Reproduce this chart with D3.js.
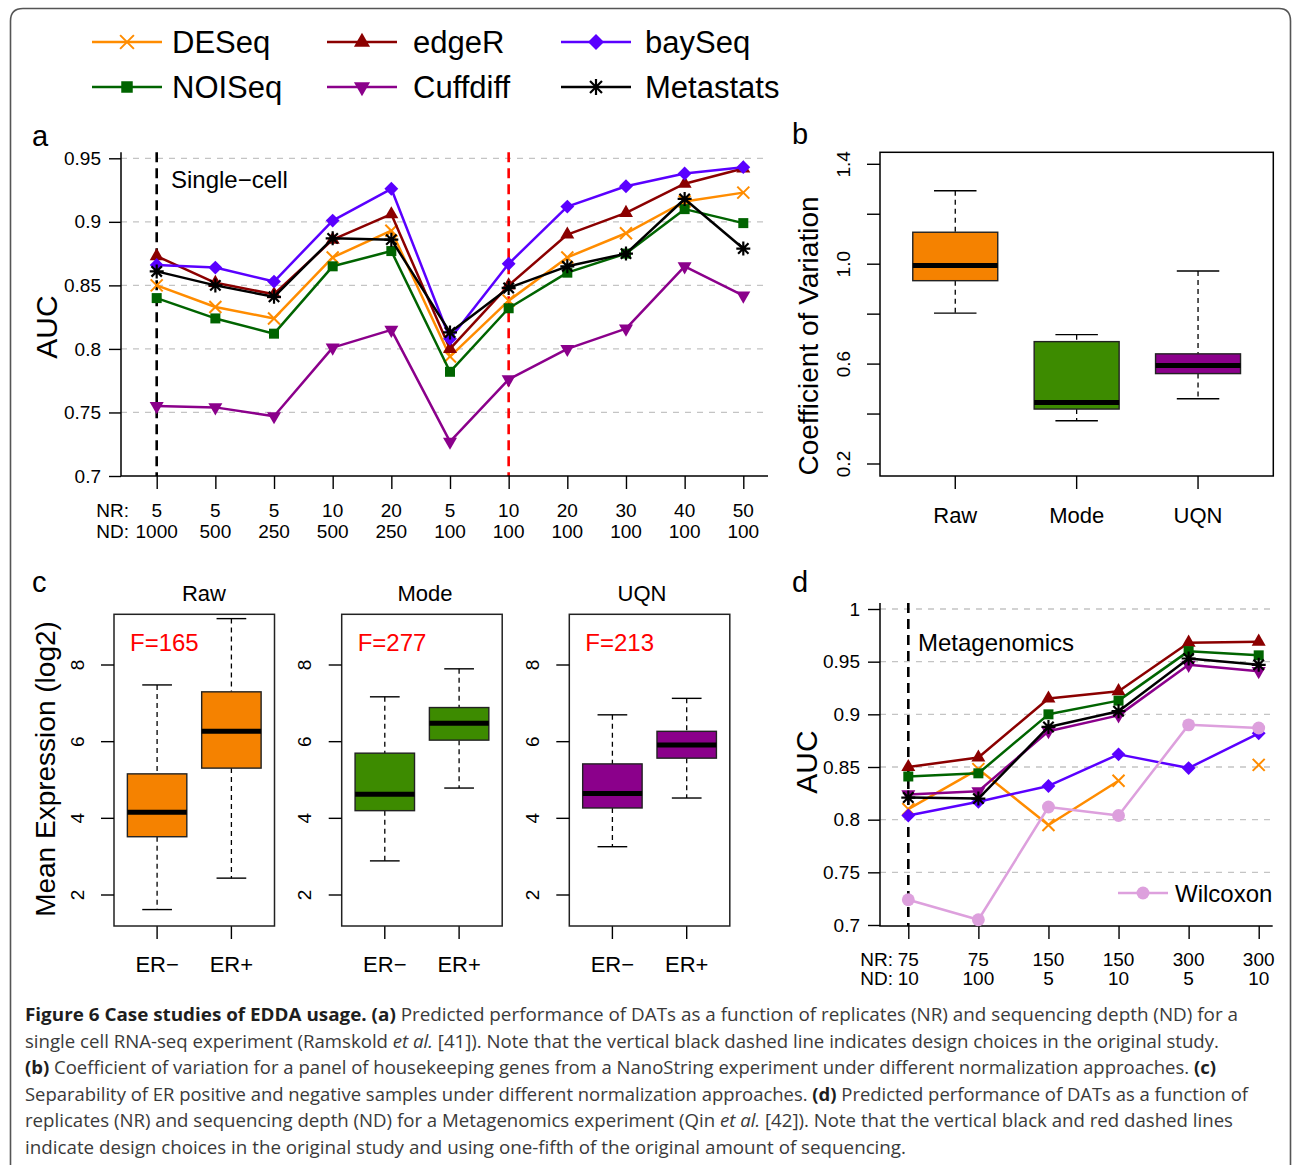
<!DOCTYPE html>
<html><head><meta charset="utf-8">
<script src="https://cdn.jsdelivr.net/npm/d3@7"></script>
<style>body{margin:0;background:#fff}svg{display:block}</style>
</head><body>
<script>
// ================= DATA =================
const methods = ["DESeq", "edgeR", "baySeq", "NOISeq", "Cuffdiff", "Metastats"];

// panel a : single-cell
const aNR = ["5", "5", "5", "10", "20", "5", "10", "20", "30", "40", "50"];
const aND = ["1000", "500", "250", "500", "250", "100", "100", "100", "100", "100", "100"];
const aDESeq    = [0.850, 0.833, 0.824, 0.872, 0.893, 0.794, 0.838, 0.872, 0.891, 0.916, 0.923];
const aEdgeR    = [0.873, 0.852, 0.843, 0.886, 0.906, 0.800, 0.850, 0.890, 0.907, 0.930, 0.942];
const aBaySeq   = [0.866, 0.864, 0.853, 0.901, 0.926, 0.808, 0.867, 0.912, 0.928, 0.938, 0.943];
const aNOISeq   = [0.840, 0.824, 0.812, 0.865, 0.877, 0.782, 0.832, 0.860, 0.875, 0.910, 0.899];
const aCuffdiff = [0.755, 0.754, 0.747, 0.801, 0.815, 0.727, 0.776, 0.800, 0.816, 0.865, 0.842];
const aMetastats= [0.861, 0.850, 0.841, 0.887, 0.886, 0.813, 0.848, 0.865, 0.875, 0.918, 0.879];
const aYTicks = [0.7, 0.75, 0.8, 0.85, 0.9, 0.95];

// panel b : coefficient of variation
const cvGroups = ["Raw", "Mode", "UQN"];
const cvLow    = [0.804, 0.373, 0.461];
const cvQ1     = [0.934, 0.420, 0.562];
const cvMedian = [0.995, 0.446, 0.594];
const cvQ3     = [1.128, 0.690, 0.641];
const cvHigh   = [1.294, 0.718, 0.973];
const cvTicks  = [0.2, 0.4, 0.6, 0.8, 1.0, 1.2, 1.4];
const cvTickLabels = ["0.2", "", "0.6", "", "1.0", "", "1.4"];

// panel c : mean expression by ER status
const normTitles = ["Raw", "Mode", "UQN"];
const fStats = ["F=165", "F=277", "F=213"];
const erGroups = ["ER\u2212", "ER+"];
const exprLow    = [[1.62, 2.44], [2.89, 4.79], [3.26, 4.53]];
const exprQ1     = [[3.52, 5.31], [4.20, 6.04], [4.27, 5.57]];
const exprMedian = [[4.16, 6.27], [4.63, 6.48], [4.65, 5.91]];
const exprQ3     = [[5.16, 7.30], [5.70, 6.89], [5.42, 6.27]];
const exprHigh   = [[7.48, 9.21], [7.17, 7.90], [6.70, 7.13]];
const exprTicks  = [2, 4, 6, 8];

// panel d : metagenomics
const dNR = ["75", "75", "150", "150", "300", "300"];
const dND = ["10", "100", "5", "10", "5", "10"];
const dDESeq    = [0.810, 0.848, 0.795, 0.837, null, 0.852];
const dEdgeR    = [0.850, 0.859, 0.915, 0.922, 0.968, 0.969];
const dBaySeq   = [0.804, 0.817, 0.832, 0.862, 0.849, 0.882];
const dNOISeq   = [0.841, 0.844, 0.900, 0.913, 0.960, 0.956];
const dCuffdiff = [0.824, 0.827, 0.884, 0.899, 0.947, 0.941];
const dMetastats= [0.821, 0.820, 0.888, 0.903, 0.953, 0.947];
const dWilcoxon = [0.724, 0.705, 0.812, 0.804, 0.890, 0.887];
const dYTicks = [0.7, 0.75, 0.8, 0.85, 0.9, 0.95, 1];

// caption
const captionLines = [
  [["b", "Figure 6 Case studies of EDDA usage. "], ["b", "(a)"], ["n", " Predicted performance of DATs as a function of replicates (NR) and sequencing depth (ND) for a"]],
  [["n", "single cell RNA-seq experiment (Ramskold "], ["i", "et al."], ["n", " [41]). Note that the vertical black dashed line indicates design choices in the original study."]],
  [["b", "(b)"], ["n", " Coefficient of variation for a panel of housekeeping genes from a NanoString experiment under different normalization approaches. "], ["b", "(c)"]],
  [["n", "Separability of ER positive and negative samples under different normalization approaches. "], ["b", "(d)"], ["n", " Predicted performance of DATs as a function of"]],
  [["n", "replicates (NR) and sequencing depth (ND) for a Metagenomics experiment (Qin "], ["i", "et al."], ["n", " [42]). Note that the vertical black and red dashed lines"]],
  [["n", "indicate design choices in the original study and using one-fifth of the original amount of sequencing."]]
];
const captionWidths = [1213, 1194, 1191, 1223, 1208, 881];

// ================= STYLE =================
const FONT = "'Liberation Sans', Arial, Helvetica, sans-serif";
const style = {
  DESeq:    {color: "#ff8c00", shape: "x"},
  edgeR:    {color: "#8b0000", shape: "tri"},
  baySeq:   {color: "#5a00ff", shape: "diamond"},
  NOISeq:   {color: "#006400", shape: "square"},
  Cuffdiff: {color: "#8b008b", shape: "tridown"},
  Metastats:{color: "#000000", shape: "star"},
  Wilcoxon: {color: "#dda0dd", shape: "circle"}
};
const boxColors = ["#f58200", "#3d8b00", "#8b008b"];
const cTitleX = [204, 425, 642];

const svg = d3.select("body").append("svg").attr("width", 1292).attr("height", 1165)
  .style("font-family", FONT);

// frame
svg.append("path")
  .attr("d", "M10.5,1165 V21 Q10.5,8.5 23,8.5 H1279 Q1290.5,8.5 1290.5,21 V1165")
  .attr("fill", "none").attr("stroke", "#555").attr("stroke-width", 1.6);

function drawMarker(g, shape, x, y, color, k = 1) {
  let p;
  if (shape === "x") {
    const h = 6 * k;
    p = g.append("path").attr("d", `M${-h},${-h}L${h},${h}M${-h},${h}L${h},${-h}`)
      .attr("fill", "none").attr("stroke", color).attr("stroke-width", 2);
  } else if (shape === "star") {
    const h = 7 * k, q = 5.2 * k;
    p = g.append("path").attr("d", `M${-q},${-q}L${q},${q}M${-q},${q}L${q},${-q}M${-h},0L${h},0M0,${-h}L0,${h}`)
      .attr("fill", "none").attr("stroke", color).attr("stroke-width", 2.2);
  } else {
    let sym, size, rot = 0;
    if (shape === "tri") { sym = d3.symbolTriangle; size = 85; }
    else if (shape === "tridown") { sym = d3.symbolTriangle; size = 85; rot = 180; }
    else if (shape === "diamond") { sym = d3.symbolSquare; size = 96; rot = 45; }
    else if (shape === "square") { sym = d3.symbolSquare; size = 100; }
    else { sym = d3.symbolCircle; size = 130; }
    p = g.append("path").attr("d", d3.symbol(sym, size * k * k)()).attr("fill", color);
    p.attr("transform", `translate(${x},${y}) rotate(${rot})`);
    return p;
  }
  p.attr("transform", `translate(${x},${y})`);
  return p;
}

function drawSeries(g, name, values, x, y) {
  const st = style[name];
  const line = d3.line().defined(d => d != null).x((d, i) => x(i)).y(d => y(d));
  g.append("path").datum(values).attr("d", line).attr("fill", "none")
    .attr("stroke", st.color).attr("stroke-width", 2.5).attr("stroke-linejoin", "round");
  values.forEach((v, i) => { if (v != null) drawMarker(g, st.shape, x(i), y(v), st.color); });
}

function rotText(g, cx, cy, txt, size) {
  return g.append("text").attr("transform", `translate(${cx},${cy}) rotate(-90)`)
    .attr("text-anchor", "middle").attr("dy", "0.35em").attr("font-size", size).text(txt);
}

// ================= TOP LEGEND =================
const legG = svg.append("g");
const legCols = [[92, 162, 172], [327, 397, 413], [561, 631, 645]];
const legRows = [42, 87];
const legendOrder = [["DESeq", "edgeR", "baySeq"], ["NOISeq", "Cuffdiff", "Metastats"]];
legendOrder.forEach((row, r) => row.forEach((name, c) => {
  const [x0, x1, tx] = legCols[c]; const y = legRows[r]; const st = style[name];
  legG.append("line").attr("x1", x0).attr("x2", x1).attr("y1", y).attr("y2", y)
    .attr("stroke", st.color).attr("stroke-width", 2.5);
  drawMarker(legG, st.shape, (x0 + x1) / 2, y, st.color, 1.15);
  legG.append("text").attr("x", tx).attr("y", y + 11).attr("font-size", 31).text(name);
}));

// ================= PANEL A =================
{
  const g = svg.append("g");
  const L = 121, R = 768, T = 152.3, B = 476;
  const x = d3.scaleLinear().domain([0, aNR.length - 1]).range([156.7, 743.3]);
  const y = d3.scaleLinear().domain([0.7, 0.95]).range([B, 158.3]);
  aYTicks.filter(t => t > 0.7).forEach(t => g.append("line").attr("x1", L).attr("x2", R)
    .attr("y1", y(t)).attr("y2", y(t)).attr("stroke", "#c4c4c4").attr("stroke-width", 1.3)
    .attr("stroke-dasharray", "6,6"));
  g.append("line").attr("x1", x(0)).attr("x2", x(0)).attr("y1", T).attr("y2", B)
    .attr("stroke", "#000").attr("stroke-width", 2.6).attr("stroke-dasharray", "10,6");
  g.append("line").attr("x1", x(6)).attr("x2", x(6)).attr("y1", T).attr("y2", B)
    .attr("stroke", "#ff0000").attr("stroke-width", 2.6).attr("stroke-dasharray", "10,6");
  const ay = g.append("g").attr("transform", `translate(${L},0)`)
    .call(d3.axisLeft(y).tickValues(aYTicks).tickSize(12).tickPadding(8).tickFormat(d3.format("")));
  ay.select(".domain").remove();
  ay.selectAll("text").attr("font-size", 19).attr("font-family", FONT).attr("fill", "#000");
  ay.selectAll("line").attr("stroke-width", 1.4);
  const ax = g.append("g").attr("transform", `translate(0,${B})`)
    .call(d3.axisBottom(x).tickValues(d3.range(aNR.length)).tickSize(13).tickFormat(""));
  ax.select(".domain").remove();
  ax.selectAll("line").attr("stroke-width", 1.4);
  g.append("path").attr("d", `M${L},${T}V${B}H${R}`).attr("fill", "none").attr("stroke", "#000").attr("stroke-width", 1.5);
  aNR.forEach((v, i) => {
    g.append("text").attr("x", x(i)).attr("y", 517).attr("text-anchor", "middle").attr("font-size", 19).text(v);
    g.append("text").attr("x", x(i)).attr("y", 537.5).attr("text-anchor", "middle").attr("font-size", 19).text(aND[i]);
  });
  g.append("text").attr("x", 129).attr("y", 517).attr("text-anchor", "end").attr("font-size", 19).text("NR:");
  g.append("text").attr("x", 129).attr("y", 537.5).attr("text-anchor", "end").attr("font-size", 19).text("ND:");
  const series = [aDESeq, aEdgeR, aBaySeq, aNOISeq, aCuffdiff, aMetastats];
  methods.forEach((m, k) => drawSeries(g, m, series[k], x, y));
  g.append("text").attr("x", 171).attr("y", 187.5).attr("font-size", 24).text("Single\u2212cell");
  rotText(g, 46, 327, "AUC", 30);
  g.append("text").attr("x", 32).attr("y", 146).attr("font-size", 29).text("a");
}

// ================= PANEL B =================
{
  const g = svg.append("g");
  const L = 880, R = 1273.3, T = 152.3, B = 476;
  const x = d3.scaleLinear().domain([0.38, 3.62]).range([L, R]);
  const y = d3.scaleLinear().domain([0.2, 1.4]).range([464, 164.3]);
  const bw = (x(1) - x(0)) * 0.7;
  cvGroups.forEach((grp, i) => {
    const cx = x(i + 1);
    g.append("line").attr("x1", cx).attr("x2", cx).attr("y1", y(cvHigh[i])).attr("y2", y(cvQ3[i]))
      .attr("stroke", "#000").attr("stroke-width", 1.3).attr("stroke-dasharray", "5,4");
    g.append("line").attr("x1", cx).attr("x2", cx).attr("y1", y(cvQ1[i])).attr("y2", y(cvLow[i]))
      .attr("stroke", "#000").attr("stroke-width", 1.3).attr("stroke-dasharray", "5,4");
    [cvHigh[i], cvLow[i]].forEach(v => g.append("line").attr("x1", cx - bw / 4).attr("x2", cx + bw / 4)
      .attr("y1", y(v)).attr("y2", y(v)).attr("stroke", "#000").attr("stroke-width", 1.4));
    g.append("rect").attr("x", cx - bw / 2).attr("width", bw).attr("y", y(cvQ3[i]))
      .attr("height", y(cvQ1[i]) - y(cvQ3[i])).attr("fill", boxColors[i]).attr("stroke", "#222").attr("stroke-width", 1.4);
    g.append("line").attr("x1", cx - bw / 2).attr("x2", cx + bw / 2).attr("y1", y(cvMedian[i])).attr("y2", y(cvMedian[i]))
      .attr("stroke", "#000").attr("stroke-width", 5);
    g.append("line").attr("x1", cx).attr("x2", cx).attr("y1", B).attr("y2", B + 13).attr("stroke", "#000").attr("stroke-width", 1.4);
    g.append("text").attr("x", cx).attr("y", 523).attr("text-anchor", "middle").attr("font-size", 22).text(grp);
  });
  g.append("rect").attr("x", L).attr("y", T).attr("width", R - L).attr("height", B - T)
    .attr("fill", "none").attr("stroke", "#000").attr("stroke-width", 1.5);
  cvTicks.forEach((t, i) => {
    g.append("line").attr("x1", L - 13).attr("x2", L).attr("y1", y(t)).attr("y2", y(t)).attr("stroke", "#000").attr("stroke-width", 1.4);
    if (cvTickLabels[i]) rotText(g, 843.5, y(t), cvTickLabels[i], 19);
  });
  rotText(g, 808, 336, "Coefficient of Variation", 28);
  g.append("text").attr("x", 792).attr("y", 144).attr("font-size", 29).text("b");
}

// ================= PANEL C =================
{
  const g = svg.append("g");
  const T = 614.3, B = 926;
  const lefts = [114, 341.7, 569.3], W = 160.5;
  const y = d3.scaleLinear().domain([2, 8]).range([895, 665]);
  normTitles.forEach((title, p) => {
    const L = lefts[p];
    const x = d3.scaleLinear().domain([0.42, 2.58]).range([L, L + W]);
    const bw = (x(1) - x(0)) * 0.8;
    erGroups.forEach((er, j) => {
      const cx = x(j + 1);
      g.append("line").attr("x1", cx).attr("x2", cx).attr("y1", y(exprHigh[p][j])).attr("y2", y(exprQ3[p][j]))
        .attr("stroke", "#000").attr("stroke-width", 1.3).attr("stroke-dasharray", "5,4");
      g.append("line").attr("x1", cx).attr("x2", cx).attr("y1", y(exprQ1[p][j])).attr("y2", y(exprLow[p][j]))
        .attr("stroke", "#000").attr("stroke-width", 1.3).attr("stroke-dasharray", "5,4");
      [exprHigh[p][j], exprLow[p][j]].forEach(v => g.append("line").attr("x1", cx - bw / 4).attr("x2", cx + bw / 4)
        .attr("y1", y(v)).attr("y2", y(v)).attr("stroke", "#000").attr("stroke-width", 1.4));
      g.append("rect").attr("x", cx - bw / 2).attr("width", bw).attr("y", y(exprQ3[p][j]))
        .attr("height", y(exprQ1[p][j]) - y(exprQ3[p][j])).attr("fill", boxColors[p]).attr("stroke", "#222").attr("stroke-width", 1.4);
      g.append("line").attr("x1", cx - bw / 2).attr("x2", cx + bw / 2).attr("y1", y(exprMedian[p][j])).attr("y2", y(exprMedian[p][j]))
        .attr("stroke", "#000").attr("stroke-width", 5);
      g.append("line").attr("x1", cx).attr("x2", cx).attr("y1", B).attr("y2", B + 13).attr("stroke", "#000").attr("stroke-width", 1.4);
      g.append("text").attr("x", cx).attr("y", 972).attr("text-anchor", "middle").attr("font-size", 22).text(er);
    });
    g.append("rect").attr("x", L).attr("y", T).attr("width", W).attr("height", B - T)
      .attr("fill", "none").attr("stroke", "#222").attr("stroke-width", 1.5);
    exprTicks.forEach(t => {
      g.append("line").attr("x1", L - 13).attr("x2", L).attr("y1", y(t)).attr("y2", y(t)).attr("stroke", "#000").attr("stroke-width", 1.4);
      rotText(g, L - 37, y(t), String(t), 19);
    });
    g.append("text").attr("x", cTitleX[p]).attr("y", 600.5).attr("text-anchor", "middle").attr("font-size", 22).text(title);
    g.append("text").attr("x", L + 16).attr("y", 651).attr("font-size", 24).attr("fill", "#ff0000").text(fStats[p]);
  });
  rotText(g, 45, 769, "Mean Expression (log2)", 28);
  g.append("text").attr("x", 32).attr("y", 592).attr("font-size", 29).text("c");
}

// ================= PANEL D =================
{
  const g = svg.append("g");
  const L = 880, R = 1272.7, T = 603, B = 926;
  const x = d3.scaleLinear().domain([0, dNR.length - 1]).range([908.3, 1258.7]);
  const y = d3.scaleLinear().domain([0.7, 1]).range([925, 609]);
  dYTicks.filter(t => t > 0.7).forEach(t => g.append("line").attr("x1", L).attr("x2", R)
    .attr("y1", y(t)).attr("y2", y(t)).attr("stroke", "#c4c4c4").attr("stroke-width", 1.3)
    .attr("stroke-dasharray", "6,6"));
  g.append("line").attr("x1", x(0)).attr("x2", x(0)).attr("y1", T).attr("y2", B)
    .attr("stroke", "#000").attr("stroke-width", 2.6).attr("stroke-dasharray", "10,6");
  const ay = g.append("g").attr("transform", `translate(${L},0)`)
    .call(d3.axisLeft(y).tickValues(dYTicks).tickSize(12).tickPadding(8).tickFormat(d3.format("")));
  ay.select(".domain").remove();
  ay.selectAll("text").attr("font-size", 19).attr("font-family", FONT).attr("fill", "#000");
  ay.selectAll("line").attr("stroke-width", 1.4);
  const ax = g.append("g").attr("transform", `translate(0,${B})`)
    .call(d3.axisBottom(x).tickValues(d3.range(dNR.length)).tickSize(13).tickFormat(""));
  ax.select(".domain").remove();
  ax.selectAll("line").attr("stroke-width", 1.4);
  g.append("path").attr("d", `M${L},${T}V${B}H${R}`).attr("fill", "none").attr("stroke", "#000").attr("stroke-width", 1.5);
  dNR.forEach((v, i) => {
    g.append("text").attr("x", x(i)).attr("y", 966).attr("text-anchor", "middle").attr("font-size", 19).text(v);
    g.append("text").attr("x", x(i)).attr("y", 985).attr("text-anchor", "middle").attr("font-size", 19).text(dND[i]);
  });
  g.append("text").attr("x", 893).attr("y", 966).attr("text-anchor", "end").attr("font-size", 19).text("NR:");
  g.append("text").attr("x", 893).attr("y", 985).attr("text-anchor", "end").attr("font-size", 19).text("ND:");
  const series = [dDESeq, dEdgeR, dBaySeq, dNOISeq, dCuffdiff, dMetastats];
  methods.forEach((m, k) => drawSeries(g, m, series[k], x, y));
  drawSeries(g, "Wilcoxon", dWilcoxon, x, y);
  g.append("line").attr("x1", 1118).attr("x2", 1168).attr("y1", 893).attr("y2", 893)
    .attr("stroke", style.Wilcoxon.color).attr("stroke-width", 2.5);
  drawMarker(g, "circle", 1143, 893, style.Wilcoxon.color);
  g.append("text").attr("x", 1175).attr("y", 901.5).attr("font-size", 24).text("Wilcoxon");
  g.append("text").attr("x", 918).attr("y", 651).attr("font-size", 24).text("Metagenomics");
  rotText(g, 806, 762, "AUC", 30);
  g.append("text").attr("x", 792).attr("y", 592).attr("font-size", 29).text("d");
}

// ================= CAPTION =================
{
  const g = svg.append("g");
  const baselines = [1021, 1048, 1074, 1101, 1127, 1154];
  captionLines.forEach((segs, li) => {
    const t = g.append("text").attr("x", 25).attr("y", baselines[li])
      .attr("font-family", "'Open Sans', 'Noto Sans', sans-serif").attr("font-size", 17.5)
      .attr("fill", "#3a3a3a").attr("textLength", captionWidths[li]).attr("lengthAdjust", "spacingAndGlyphs")
      .style("white-space", "pre");
    segs.forEach(([kind, str]) => {
      const ts = t.append("tspan").text(str);
      if (kind === "b") ts.attr("font-weight", "bold").attr("fill", "#1e1e1e");
      if (kind === "i") ts.attr("font-style", "italic");
    });
  });
}
</script>
</body></html>
